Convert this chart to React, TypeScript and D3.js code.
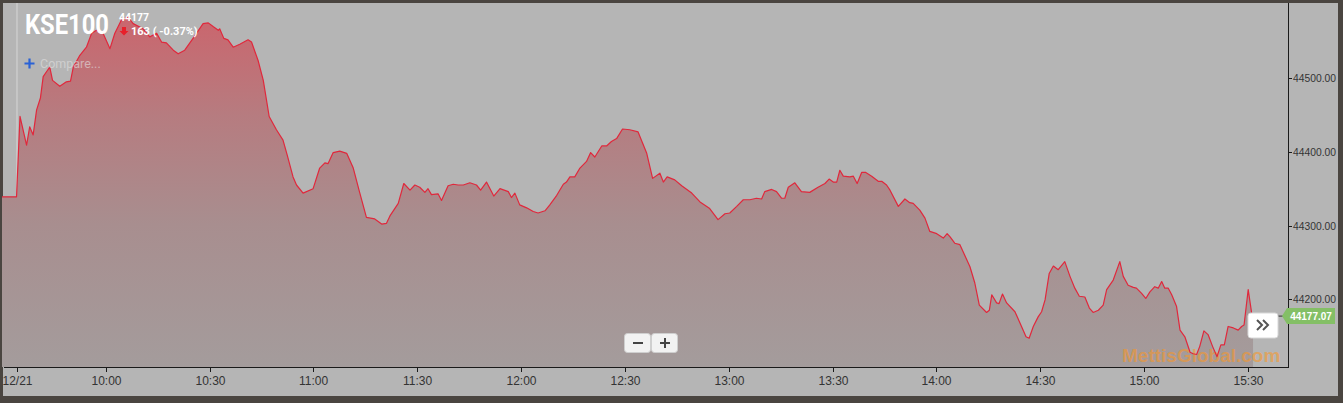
import { area, format, line, scaleLinear, scaleTime, timeParse } from 'd3';

// KSE100 intraday, 12/21 — minutes after 09:30 and index level
const minuteOffsets = [
  0, 4.2, 5.2, 7.1, 8.0, 9.0, 10.0, 11.1, 11.9, 12.9, 13.8, 14.6, 16.7, 18.6, 19.8, 20.6,
  22.5, 24.4, 25.9, 27.3, 29.2, 31.2, 32.6, 34.5, 36.4, 37.9, 40.8, 42.7, 44.7, 46.1, 47.5,
  49.5, 50.9, 52.8, 55.2, 58.1, 59.6, 61.0, 62.5, 62.9, 64.1, 65.3, 66.8, 68.7, 71.1, 72.1,
  74.0, 75.5, 77.2, 79.3, 81.2, 82.4, 84.1, 85.1, 87.0, 89.9, 91.8, 93.3, 94.2, 95.7, 97.6,
  99.6, 101.5, 103.4, 105.3, 107.7, 109.7, 111.1, 112.1, 114.5, 116.1, 117.9, 119.3, 120.7,
  122.2, 123.1, 124.1, 126.0, 127.0, 128.9, 130.4, 131.8, 133.3, 135.2, 137.1, 138.3, 140.0,
  142.1, 143.9, 146.3, 147.2, 148.2, 149.6, 151.6, 153.5, 154.9, 156.9, 158.3, 160.3, 162.2,
  163.1, 164.1, 165.5, 167.0, 168.9, 170.1, 171.3, 173.3, 174.7, 176.1, 177.6, 179.3, 181.4,
  183.8, 186.3, 188.0, 190.1, 191.1, 192.2, 194.4, 196.4, 199.3, 201.7, 204.5, 206.9, 208.9,
  210.3, 212.3, 214.2, 216.1, 218.0, 219.5, 220.4, 222.4, 223.8, 225.3, 226.2, 227.2, 229.1,
  231.0, 233.4, 235.8, 237.8, 239.0, 240.2, 241.2, 242.1, 243.1, 245.0, 246.0, 247.1, 248.4,
  249.6, 251.3, 253.2, 254.2, 255.6, 256.6, 259.0, 260.9, 262.3, 263.3, 265.2, 266.7, 268.1,
  270.1, 272.0, 273.1, 273.9, 275.3, 276.8, 279.7, 281.1, 282.4, 284.5, 285.3, 286.0, 287.4,
  288.1, 289.1, 290.3, 292.7, 294.6, 295.9, 296.8, 298.0, 299.4, 300.4, 301.4, 302.6, 303.8,
  305.2, 307.1, 308.6, 310.0, 311.3, 312.9, 314.2, 315.3, 316.8, 318.2, 319.2, 321.1, 323.0,
  324.0, 325.4, 326.9, 327.8, 329.3, 330.5, 331.7, 333.1, 334.1, 335.1, 336.0, 337.0, 338.0,
  339.4, 340.4, 341.8, 343.3, 344.2, 345.2, 346.1, 347.3, 348.5, 349.8, 351.1, 352.2, 353.2,
  354.3, 355.8, 357.2, 358.2, 358.9, 360.1, 361.1, 361.5,
];

const indexValues = [
  44339, 44339, 44448, 44409, 44434, 44423, 44457, 44473, 44502, 44509, 44515, 44497, 44489,
  44495, 44496, 44515, 44531, 44542, 44561, 44565, 44561, 44540, 44561, 44579, 44583, 44574,
  44567, 44556, 44561, 44549, 44548, 44538, 44533, 44538, 44554, 44574, 44575, 44570, 44565,
  44567, 44554, 44552, 44542, 44546, 44552, 44549, 44524, 44497, 44448, 44430, 44416, 44396,
  44366, 44355, 44344, 44350, 44378, 44385, 44384, 44399, 44401, 44398, 44378, 44344, 44311,
  44309, 44302, 44303, 44313, 44330, 44357, 44348, 44355, 44352, 44345, 44350, 44342, 44343,
  44334, 44354, 44356, 44355, 44355, 44358, 44355, 44348, 44359, 44340, 44350, 44346, 44338,
  44344, 44328, 44324, 44319, 44317, 44320, 44328, 44341, 44356, 44359, 44366, 44366, 44378,
  44387, 44399, 44393, 44408, 44408, 44414, 44418, 44431, 44430, 44427, 44398, 44364, 44371,
  44359, 44366, 44362, 44354, 44344, 44332, 44323, 44308, 44316, 44317, 44326, 44335, 44335,
  44337, 44336, 44346, 44349, 44346, 44337, 44337, 44352, 44358, 44346, 44345, 44352, 44357,
  44363, 44359, 44359, 44375, 44367, 44366, 44367, 44357, 44372, 44372, 44367, 44360, 44360,
  44355, 44348, 44326, 44336, 44331, 44330, 44321, 44310, 44292, 44289, 44283, 44289, 44285,
  44276, 44274, 44244, 44222, 44192, 44182, 44185, 44206, 44195, 44194, 44207, 44195, 44183,
  44163, 44149, 44147, 44163, 44176, 44183, 44199, 44235, 44245, 44240, 44251, 44231, 44215,
  44204, 44203, 44188, 44182, 44185, 44192, 44213, 44226, 44251, 44231, 44219, 44216, 44215,
  44208, 44201, 44210, 44217, 44215, 44224, 44215, 44215, 44206, 44190, 44158, 44149, 44128,
  44126, 44125, 44136, 44157, 44152, 44136, 44122, 44138, 44138, 44163, 44161, 44158, 44163,
  44165, 44213, 44181, 44177,
];

const xTickTimes = [
  '09:34:20', '10:00:00', '10:30:00', '11:00:00', '11:30:00', '12:00:00', '12:30:00',
  '13:00:00', '13:30:00', '14:00:00', '14:30:00', '15:00:00', '15:30:00',
];
const xTickLabels = [
  '12/21', '10:00', '10:30', '11:00', '11:30', '12:00', '12:30', '13:00', '13:30', '14:00',
  '14:30', '15:00', '15:30',
];
const yTicks = [44200, 44300, 44400, 44500];
const lastValue = 44177.07;

const parseTime = timeParse('%H:%M:%S');

export default function App() {
  const width = 1343;
  const height = 403;
  const plot = { left: 2, right: 1288, top: 3, bottom: 367 };

  const start = parseTime('09:30:00') as Date;
  const xScale = scaleTime()
    .domain([start, parseTime('15:41:36') as Date])
    .range([plot.left, plot.right]);
  const yScale = scaleLinear().domain([44108, 44602]).range([plot.bottom, plot.top]);

  const points = minuteOffsets.map((m, i) => ({
    t: new Date(start.getTime() + m * 60000),
    v: indexValues[i],
  }));

  const areaPath = area<{ t: Date; v: number }>()
    .x((d) => xScale(d.t))
    .y0(plot.bottom)
    .y1((d) => yScale(d.v))(points);
  const linePath = line<{ t: Date; v: number }>()
    .x((d) => xScale(d.t))
    .y((d) => yScale(d.v))(points);

  const fmt = format('.2f');
  const dayX = xScale(parseTime(xTickTimes[0]) as Date);
  const lastY = yScale(lastValue);
  const axisFont = '"Liberation Sans", Arial, sans-serif';

  return (
    <div style={{ position: 'absolute', left: 0, top: 0 }}>
      <svg width={width} height={height} style={{ display: 'block' }}>
        <defs>
          <linearGradient id="kseFill" gradientUnits="userSpaceOnUse" x1="0" y1="10" x2="0" y2={plot.bottom}>
            <stop offset="0" stopColor="rgb(204,100,108)" />
            <stop offset="0.3" stopColor="rgb(182,124,128)" />
            <stop offset="0.6" stopColor="rgb(168,142,143)" />
            <stop offset="1" stopColor="rgb(164,156,156)" />
          </linearGradient>
          <clipPath id="plotClip">
            <rect x={plot.left} y={plot.top} width={plot.right - plot.left} height={plot.bottom - plot.top} />
          </clipPath>
        </defs>

        <rect x={0} y={0} width={width} height={height} fill="#4a4540" />
        <rect x={3} y={3} width={1335} height={393} fill="#b5b5b5" />

        <line x1={dayX} x2={dayX} y1={plot.top} y2={plot.bottom} stroke="#d6d6d6" strokeWidth={1} />

        <g clipPath="url(#plotClip)">
          <path d={areaPath ?? ''} fill="url(#kseFill)" />
          <text
            x={1122}
            y={362}
            fontFamily={axisFont}
            fontWeight={700}
            fontSize={19}
            fill="rgba(255,150,30,0.55)"
          >
            MettisGlobal.com
          </text>
          <path d={linePath ?? ''} fill="none" stroke="#e0283c" strokeWidth={1.2} strokeLinejoin="round" />
        </g>

        {/* axes */}
        <line x1={plot.left + 2} x2={plot.right} y1={plot.bottom + 0.5} y2={plot.bottom + 0.5} stroke="#1a1a1a" />
        <line x1={plot.right + 0.5} x2={plot.right + 0.5} y1={plot.top} y2={plot.bottom + 1} stroke="#1a1a1a" />

        {xTickTimes.map((t, i) => {
          const x = Math.round(xScale(parseTime(t) as Date)) + 0.5;
          return (
            <g key={t}>
              <line x1={x} x2={x} y1={plot.bottom} y2={plot.bottom + 5} stroke="#1a1a1a" />
              <text x={x} y={385} textAnchor="middle" fontFamily={axisFont} fontSize={12} fill="#333">
                {xTickLabels[i]}
              </text>
            </g>
          );
        })}

        {yTicks.map((v) => {
          const y = Math.round(yScale(v)) + 0.5;
          return (
            <g key={v}>
              <line x1={plot.right} x2={plot.right + 4} y1={y} y2={y} stroke="#1a1a1a" />
              <text x={1293} y={y + 3.5} fontFamily={axisFont} fontSize={10.3} fill="#333">
                {fmt(v)}
              </text>
            </g>
          );
        })}

        {/* last price tag */}
        <line x1={1278} x2={1284} y1={lastY} y2={lastY} stroke="#333" />
        <path
          d={`M1282,${lastY} L1287,${lastY - 8} L1335,${lastY - 8} L1335,${lastY + 8} L1287,${lastY + 8} Z`}
          fill="#84bf66"
        />
        <text x={1311} y={lastY + 3.5} textAnchor="middle" fontFamily={axisFont} fontWeight={700} fontSize={10} fill="#fff">
          {fmt(lastValue)}
        </text>

        {/* scroll-to-end button */}
        <rect x={1248} y={313} width={30} height={25} rx={3} fill="#ffffff" stroke="#d8d8d8" />
        <path d="M1257,320 l5,5 l-5,5 M1263,320 l5,5 l-5,5" fill="none" stroke="#555" strokeWidth={2} />

        {/* zoom buttons */}
        <rect x={624.5} y={333.5} width={26} height={19} rx={3} fill="#f2f2f2" stroke="#cfcfcf" />
        <rect x={651.5} y={333.5} width={26} height={19} rx={3} fill="#f2f2f2" stroke="#cfcfcf" />
        <line x1={633} x2={643} y1={343} y2={343} stroke="#444" strokeWidth={2} />
        <line x1={660} x2={670} y1={343} y2={343} stroke="#444" strokeWidth={2} />
        <line x1={665} x2={665} y1={338} y2={348} stroke="#444" strokeWidth={2} />

        {/* title block */}
        <text x={25} y={34} fontFamily="Roboto, sans-serif" fontWeight={700} fontSize={27} fill="#fff" textLength={84} lengthAdjust="spacingAndGlyphs">
          KSE100
        </text>
        <text x={119} y={21} fontFamily="Roboto, sans-serif" fontWeight={700} fontSize={10.5} fill="#fff">
          44177
        </text>
        <path d="M122,27 h4 v4 h2.5 l-4.5,4.5 l-4.5,-4.5 h2.5 Z" fill="#e8202a" />
        <text x={131} y={35} fontFamily="Roboto, sans-serif" fontWeight={700} fontSize={11} fill="#fff">
          163 ( -0.37%)
        </text>

        <path d="M24.5,63.5 h10 M29.5,58.5 v10" stroke="#2a62d6" strokeWidth={2.2} />
        <text x={40} y={68} fontFamily="Roboto, sans-serif" fontSize={12.5} fill="rgba(225,225,225,0.6)">
          Compare...
        </text>
      </svg>
    </div>
  );
}
